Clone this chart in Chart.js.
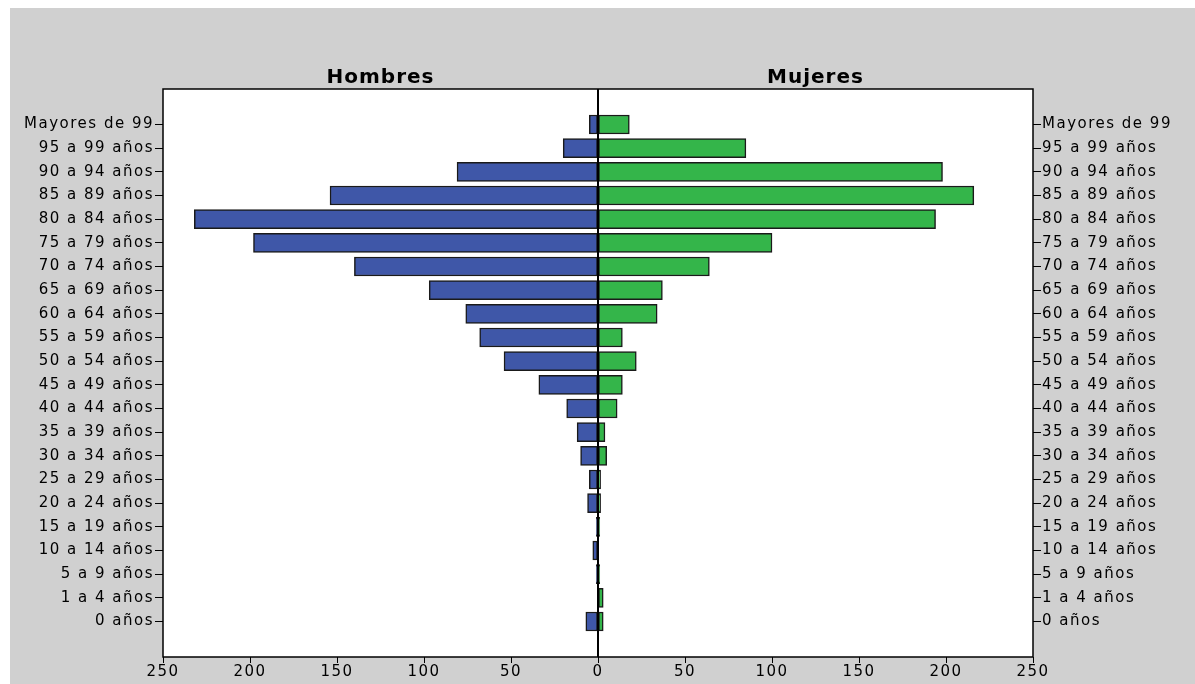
<!DOCTYPE html>
<html><head><meta charset="utf-8">
<script src="https://cdn.jsdelivr.net/npm/chart.js"></script>
<style>
html,body{margin:0;padding:0;background:#fff;}
#wrap{position:absolute;left:10px;top:8px;width:1185px;height:676px;background:#d0d0d0;}
canvas{display:block;}
</style></head><body>
<div id="wrap"><canvas id="c" width="1185" height="676"></canvas></div>
<script>
const categories=["Mayores de 99","95 a 99 años","90 a 94 años","85 a 89 años","80 a 84 años","75 a 79 años","70 a 74 años","65 a 69 años","60 a 64 años","55 a 59 años","50 a 54 años","45 a 49 años","40 a 44 años","35 a 39 años","30 a 34 años","25 a 29 años","20 a 24 años","15 a 19 años","10 a 14 años","5 a 9 años","1 a 4 años","0 años"];
const hombres=[5,20,81,154,232,198,140,97,76,68,54,34,18,12,10,5,6,1,3,1,0,7];
const mujeres=[18,85,198,216,194,100,64,37,34,14,22,14,11,4,5,1.5,1.5,1,0,1,3,3];
const xTicks=[-250,-200,-150,-100,-50,0,50,100,150,200,250];
const labels=[""].concat(categories,[""]);
const pad=a=>[null].concat(a,[null]);
const titles={id:'titles',afterDraw(ch){const c=ch.ctx,a=ch.chartArea;const mid=ch.scales.x.getPixelForValue(0);c.save();c.letterSpacing='1px';c.font='bold 20px "DejaVu Sans"';c.fillStyle='#000';c.textAlign='center';c.textBaseline='bottom';c.fillText('Hombres',(a.left+mid)/2,a.top-1);c.fillText('Mujeres',(a.right+mid)/2,a.top-1);c.strokeStyle='#000';c.lineWidth=2;c.beginPath();c.moveTo(mid,a.top);c.lineTo(mid,a.bottom);c.stroke();c.lineWidth=1.5;c.strokeRect(a.left,a.top,a.right-a.left,a.bottom-a.top);c.restore();}};
const bg={id:'bg',beforeDraw(ch){const c=ch.ctx,a=ch.chartArea;c.save();c.fillStyle='#fff';c.fillRect(a.left,a.top,a.right-a.left,a.bottom-a.top);c.restore();c.letterSpacing='1.5px';}};
const tickGrid={display:true,offset:false,drawOnChartArea:false,drawTicks:true,tickLength:8,color:ctx=>(ctx.tick&&ctx.tick.label==="")?'rgba(0,0,0,0)':'#000'};
const font={size:15,family:'"DejaVu Sans"'};
new Chart(document.getElementById('c'),{type:'bar',
data:{labels:labels,datasets:[
{label:'Hombres',data:pad(hombres.map(v=>-v)),backgroundColor:'#3f57a8',borderColor:'#1a1a1a',borderWidth:1.5,borderSkipped:false,barThickness:19,grouped:false},
{label:'Mujeres',data:pad(mujeres),backgroundColor:'#34b54a',borderColor:'#1a1a1a',borderWidth:1.5,borderSkipped:false,barThickness:19,grouped:false}]},
options:{indexAxis:'y',responsive:false,animation:false,
layout:{padding:{top:81,right:0,left:0,bottom:0}},
plugins:{legend:{display:false},tooltip:{enabled:false}},
scales:{
x:{min:-250,max:250,afterBuildTicks:s=>{s.ticks=xTicks.map(v=>({value:v}));},afterFit:s=>{s.height=27;},grid:{drawOnChartArea:false,color:'#000',tickLength:6},border:{display:false},ticks:{color:'#000',font:font,padding:0,maxRotation:0,callback:v=>Math.abs(v)}},
y:{position:'left',afterFit:s=>{s.width=153;},grid:tickGrid,border:{display:false},ticks:{color:'#000',font:font,padding:1,autoSkip:false}},
y2:{position:'right',type:'category',labels:labels,afterFit:s=>{s.width=162;},grid:tickGrid,border:{display:false},ticks:{color:'#000',font:font,padding:1,autoSkip:false}}
}},plugins:[bg,titles]});
</script></body></html>
